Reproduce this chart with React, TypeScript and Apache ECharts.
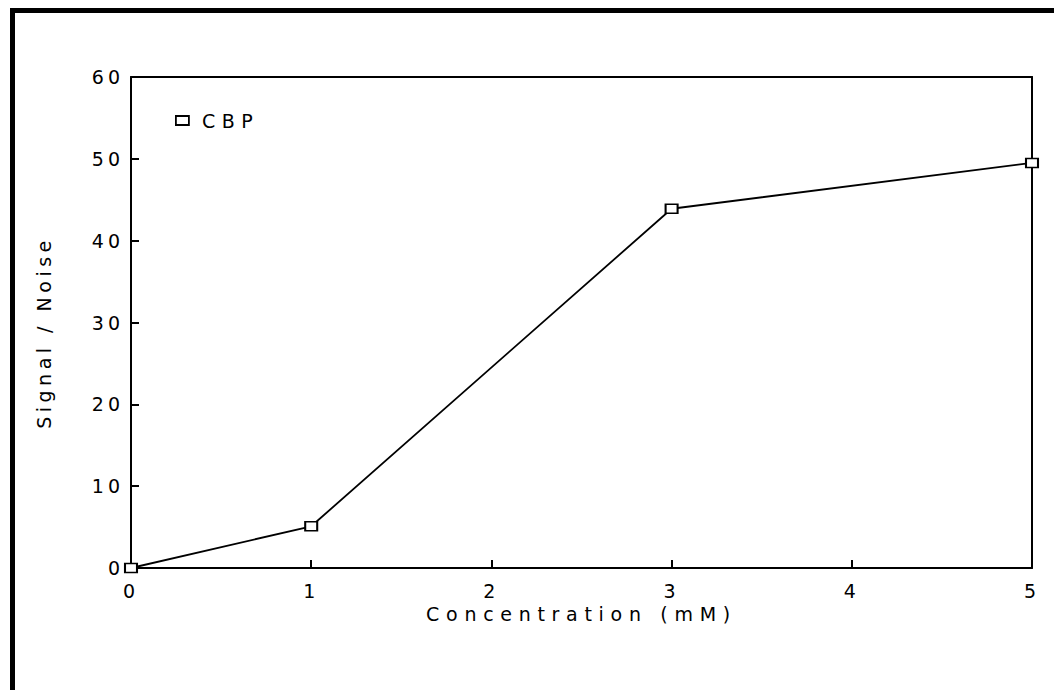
import React, { useEffect, useRef } from "react";
import * as echarts from "echarts";

// Data
const concentrations = [0, 1, 3, 5];
const signalNoise = [0, 5.1, 43.9, 49.5];
const seriesName = "CBP";
const xAxisTitle = "Concentration (mM)";
const yAxisTitle = "Signal / Noise";
const xMin = 0;
const xMax = 5;
const xStep = 1;
const yMin = 0;
const yMax = 60;
const yStep = 10;

const FONT = "DejaVu Sans";

export default function App() {
  const ref = useRef<HTMLDivElement>(null);

  useEffect(() => {
    document.body.style.margin = "0";
    const el = ref.current!;
    const chart = echarts.init(el, null, { renderer: "svg" });

    const axisLine = { show: true, onZero: false, lineStyle: { color: "#000", width: 2 } };
    const labelStyle = { color: "#000", fontFamily: FONT, fontSize: 19 };

    chart.setOption({
      animation: false,
      backgroundColor: "#fff",
      textStyle: { fontFamily: FONT, color: "#000" },
      grid: { left: 131, right: 22, top: 77, bottom: 122, containLabel: false },
      legend: {
        show: true,
        left: 175,
        top: 111,
        padding: 0,
        icon: "rect",
        itemWidth: 13,
        itemHeight: 9,
        itemStyle: { color: "#fff", borderColor: "#000", borderWidth: 1.8 },
        textStyle: { ...labelStyle, padding: [0, 0, 0, 8] },
        data: [seriesName],
      },
      xAxis: [
        {
          type: "value",
          position: "bottom",
          min: xMin,
          max: xMax,
          interval: xStep,
          axisLine,
          splitLine: { show: false },
          axisTick: { show: true, inside: true, length: 8, lineStyle: { color: "#000", width: 2 } },
          axisLabel: { ...labelStyle, margin: 13 },
          name: xAxisTitle,
          nameLocation: "middle",
          nameGap: 36,
          nameTextStyle: { ...labelStyle },
        },
        {
          type: "value",
          position: "top",
          min: xMin,
          max: xMax,
          interval: xStep,
          axisLine,
          splitLine: { show: false },
          axisTick: { show: false },
          axisLabel: { show: false },
        },
      ],
      yAxis: [
        {
          type: "value",
          position: "left",
          min: yMin,
          max: yMax,
          interval: yStep,
          axisLine,
          splitLine: { show: false },
          axisTick: { show: true, inside: true, length: 8, lineStyle: { color: "#000", width: 2 } },
          axisLabel: { ...labelStyle, margin: 7 },
          name: yAxisTitle,
          nameLocation: "middle",
          nameGap: 78,
          nameTextStyle: { ...labelStyle, padding: [0, 20, 0, 0] },
        },
        {
          type: "value",
          position: "right",
          min: yMin,
          max: yMax,
          interval: yStep,
          axisLine,
          splitLine: { show: false },
          axisTick: { show: false },
          axisLabel: { show: false },
        },
      ],
      series: [
        {
          name: seriesName,
          type: "line",
          xAxisIndex: 0,
          yAxisIndex: 0,
          data: concentrations.map((c, i) => [c, signalNoise[i]]),
          symbol: "rect",
          symbolSize: [12, 9],
          showSymbol: true,
          lineStyle: { color: "#000", width: 1.8 },
          itemStyle: { color: "#fff", borderColor: "#000", borderWidth: 1.8 },
          z: 3,
        },
      ],
      graphic: [
        { type: "rect", left: 10, top: 8, shape: { width: 5, height: 690 }, style: { fill: "#000" } },
        { type: "rect", left: 10, top: 8, shape: { width: 1044, height: 5 }, style: { fill: "#000" } },
      ],
    });

    const spacing: Record<string, string> = {
      [xAxisTitle]: "6.7px",
      [yAxisTitle]: "4.5px",
      [seriesName]: "6.5px",
    };
    const apply = () => {
      el.querySelectorAll("text").forEach((t) => {
        const s = (t.textContent ?? "").trim();
        if (spacing[s]) (t as SVGTextElement).style.letterSpacing = spacing[s];
        else if (/^\d+$/.test(s)) (t as SVGTextElement).style.letterSpacing = "4px";
      });
    };
    apply();
    const raf = requestAnimationFrame(apply);

    return () => {
      cancelAnimationFrame(raf);
      chart.dispose();
    };
  }, []);

  return <div ref={ref} style={{ width: 1054, height: 690 }} />;
}
